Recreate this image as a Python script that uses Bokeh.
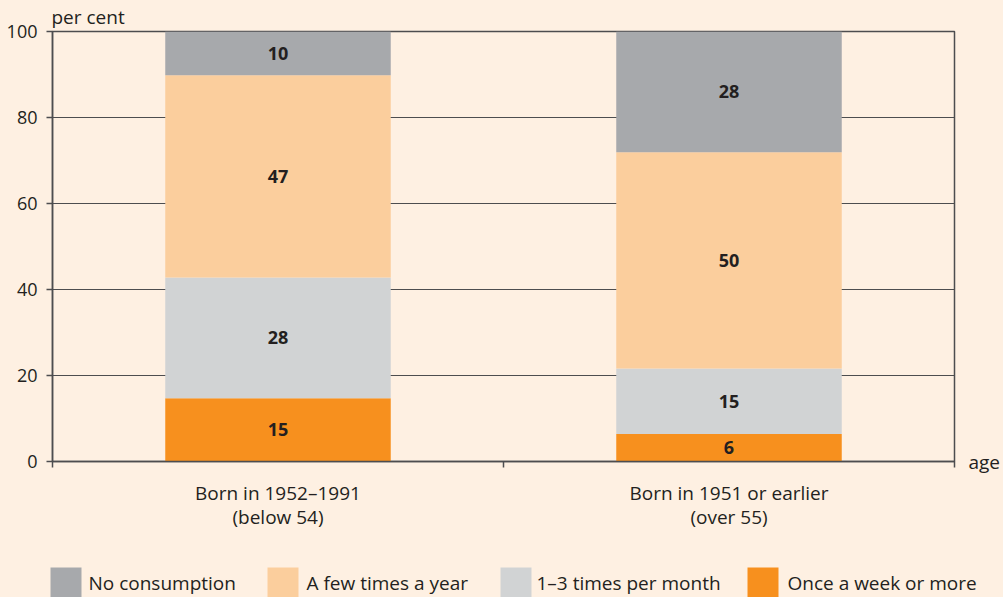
from bokeh.plotting import figure
from bokeh.layouts import column
from bokeh.models import (ColumnDataSource, FixedTicker, Label, LinearAxis, Range1d)
from bokeh.core.properties import value
from bokeh.embed import file_html
from bokeh.resources import INLINE

# ---- data ----
groups = ["Born in 1952\u20131991\n(below 54)", "Born in 1951 or earlier\n(over 55)"]
series = ["Once a week or more", "1\u20133 times per month", "A few times a year", "No consumption"]
once_week = [14.7, 6.4]
per_month = [28.1, 15.2]
few_year = [47.0, 50.3]
no_cons = [10.2, 28.1]
label_once_week = ["15", "6"]
label_per_month = ["28", "15"]
label_few_year = ["47", "50"]
label_no_cons = ["10", "28"]
y_ticks = [0, 20, 40, 60, 80, 100]

colors = ["#F7901E", "#D1D3D4", "#FBCE9D", "#A7A9AC"]
BG = "#FEF0E2"
DARK = "#231F20"
LINE = "#4D4D4F"
FONT = "Open Sans"

xs = [i + 0.5 for i in range(len(groups))]
src = ColumnDataSource(dict(x=xs, s0=once_week, s1=per_month, s2=few_year, s3=no_cons))

p = figure(width=1003, height=561, output_backend="svg", toolbar_location=None,
           x_range=Range1d(0, len(groups)), y_range=Range1d(0, 100),
           min_border_left=52, min_border_right=30, min_border_top=31, min_border_bottom=100)
p.background_fill_color = BG
p.border_fill_color = BG
p.outline_line_color = LINE
p.outline_line_width = 1.5

p.title.text = "per cent"
p.title.align = "left"
p.title.offset = -1
p.title.standoff = 3
p.title.text_font = FONT
p.title.text_font_size = "19px"
p.title.text_font_style = "normal"
p.title.text_color = DARK

renderers = p.vbar_stack(["s0", "s1", "s2", "s3"], x="x", width=0.5, source=src,
                         color=colors, line_color=None)

# segment labels
vals = [once_week, per_month, few_year, no_cons]
labs = [label_once_week, label_per_month, label_few_year, label_no_cons]
for gi, xc in enumerate(xs):
    base = 0.0
    for si in range(len(vals)):
        v = vals[si][gi]
        p.add_layout(Label(x=xc, y=base + v / 2, text=labs[si][gi], text_align="center",
                           text_baseline="middle", text_font=FONT, text_font_style="bold",
                           text_font_size="18px", text_color=DARK))
        base += v

# axes
p.xgrid.visible = False
p.ygrid.grid_line_color = LINE
p.ygrid.grid_line_width = 1.2
p.ygrid.ticker = FixedTicker(ticks=y_ticks)

p.yaxis.ticker = FixedTicker(ticks=y_ticks)
p.yaxis.axis_line_color = LINE
p.yaxis.axis_line_width = 1.5
p.yaxis.major_tick_line_color = LINE
p.yaxis.major_tick_line_width = 1.5
p.yaxis.major_tick_out = 6
p.yaxis.major_tick_in = 0
p.yaxis.minor_tick_line_color = None
p.yaxis.major_label_text_font = FONT
p.yaxis.major_label_text_font_size = "18px"
p.yaxis.major_label_text_color = DARK
p.yaxis.major_label_standoff = 9

p.xaxis.ticker = FixedTicker(ticks=xs, minor_ticks=[0, 1, 2])
p.xaxis.major_label_overrides = {x: g for x, g in zip(xs, groups)}
p.xaxis.axis_line_color = LINE
p.xaxis.axis_line_width = 1.5
p.xaxis.major_tick_out = 0
p.xaxis.major_tick_in = 0
p.xaxis.minor_tick_out = 6
p.xaxis.minor_tick_in = 0
p.xaxis.minor_tick_line_color = LINE
p.xaxis.minor_tick_line_width = 1.5
p.xaxis.major_label_text_font = FONT
p.xaxis.major_label_text_font_size = "19px"
p.xaxis.major_label_text_color = DARK
p.xaxis.major_label_text_line_height = 0.95
p.xaxis.major_label_standoff = 12

# "age" on the right, at y = 0
age_axis = LinearAxis(ticker=FixedTicker(ticks=[0]), major_label_overrides={0: "age"},
                      axis_line_color=None, major_tick_line_color=None, minor_tick_line_color=None,
                      major_tick_out=0, major_tick_in=0, minor_tick_out=0, minor_tick_in=0,
                      major_label_standoff=14, major_label_text_font=FONT,
                      major_label_text_font_size="19px", major_label_text_color=DARK)
p.add_layout(age_axis, "right")

# ---- legend strip (own frame spanning the full width; x in page pixels) ----
LEG_BOX_X = [50, 267, 500, 747]
LEG_TEXT_X = [88, 306, 536, 787]
order = [3, 2, 1, 0]
p2 = figure(width=1003, height=36, output_backend="svg", toolbar_location=None,
            x_range=Range1d(0, 1003), y_range=Range1d(0, 36),
            min_border_left=0, min_border_right=0, min_border_top=0, min_border_bottom=0)
p2.frame_align = False
p2.axis.visible = False
p2.grid.visible = False
p2.outline_line_color = None
p2.background_fill_color = BG
p2.border_fill_color = BG
leg = ColumnDataSource(dict(bx=[b + 15.5 for b in LEG_BOX_X], tx=LEG_TEXT_X,
                            color=[colors[i] for i in order], label=[series[i] for i in order]))
p2.rect(x="bx", y=15, width=31, height=30, fill_color="color", line_color=None, source=leg)
p2.text(x="tx", y=15, text="label", text_baseline="middle", text_font=value(FONT),
        text_font_size="19px", text_color=DARK, source=leg)

layout = column(p, p2, spacing=0)
html = file_html(layout, INLINE)
html = html.replace("<head>", "<head><style>body{background:%s;}</style>" % BG, 1)
open("out.html", "w").write(html)
